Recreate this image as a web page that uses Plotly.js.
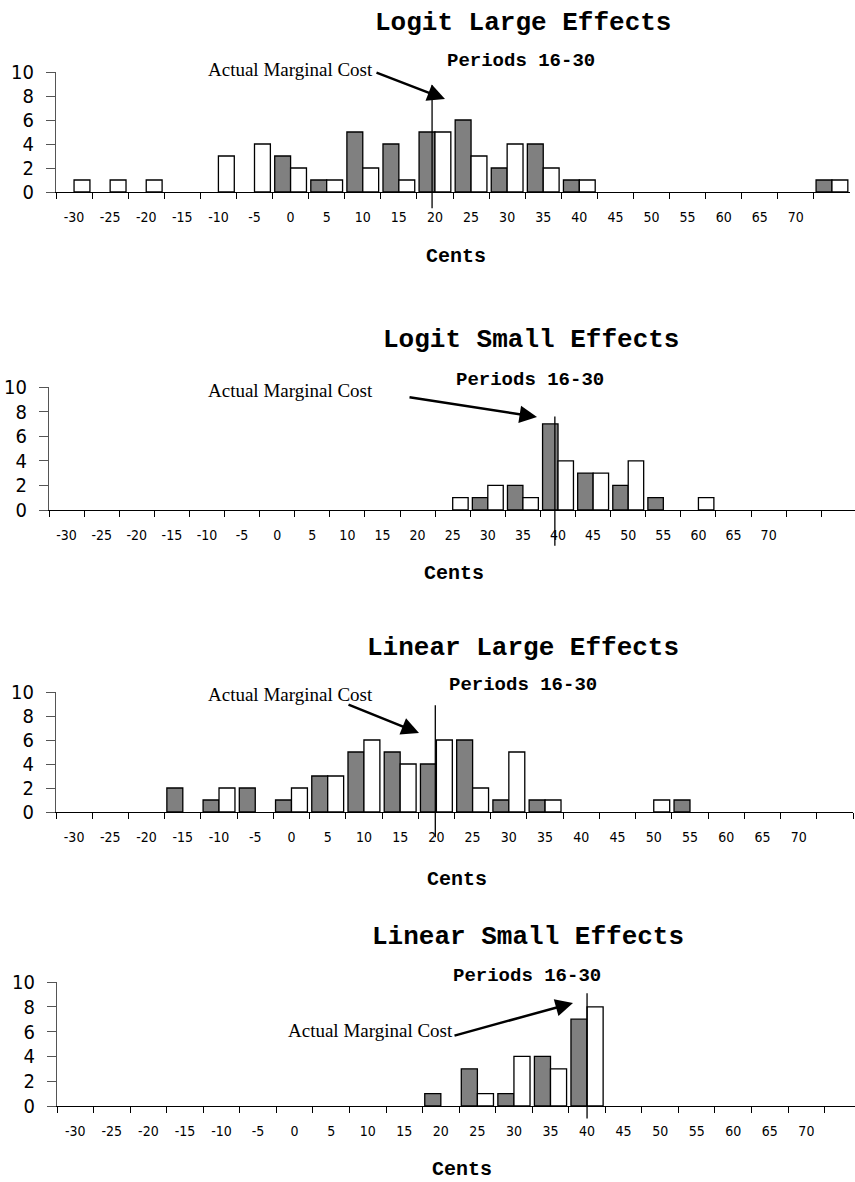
<!DOCTYPE html>
<html><head><meta charset="utf-8">
<script src="https://cdn.plot.ly/plotly-3.0.1.min.js"></script>
<style>html,body{margin:0;padding:0;background:#fff}#chart{width:855px;height:1182px}</style>
</head><body><div id="chart"></div>
<script>
// ---- data ----
const cents = ["-30","-25","-20","-15","-10","-5","0","5","10","15","20","25","30","35","40","45","50","55","60","65","70"," "];
const panelTitles = ["Logit Large Effects","Logit Small Effects","Linear Large Effects","Linear Small Effects"];
const subtitle = "Periods 16-30";
const xTitle = "Cents";
const markerLabel = "Actual Marginal Cost";
const actualCost = ["20","40","20","40"];

const logitLargeGray  = [0,0,0,0,0,0,3,1,5,4,5,6,2,4,1,0,0,0,0,0,0,1];
const logitLargeWhite = [1,1,1,0,3,4,2,1,2,1,5,3,4,2,1,0,0,0,0,0,0,1];
const logitSmallGray  = [0,0,0,0,0,0,0,0,0,0,0,0,1,2,7,3,2,1,0,0,0,0];
const logitSmallWhite = [0,0,0,0,0,0,0,0,0,0,0,1,2,1,4,3,4,0,1,0,0,0];
const linearLargeGray  = [0,0,0,2,1,2,1,3,5,5,4,6,1,1,0,0,0,1,0,0,0,0];
const linearLargeWhite = [0,0,0,0,2,0,2,3,6,4,6,2,5,1,0,0,1,0,0,0,0,0];
const linearSmallGray  = [0,0,0,0,0,0,0,0,0,0,1,3,1,4,7,0,0,0,0,0,0,0];
const linearSmallWhite = [0,0,0,0,0,0,0,0,0,0,0,1,4,3,8,0,0,0,0,0,0,0];

const graySeries  = [logitLargeGray, logitSmallGray, linearLargeGray, linearSmallGray];
const whiteSeries = [logitLargeWhite, logitSmallWhite, linearLargeWhite, linearSmallWhite];

// ---- layout geometry (pixels) ----
const W = 855, H = 1182;
const px = v => v / W, py = v => 1 - v / H;
const panels = [
  {x0:56, x1:850, yb:192, yt:72,  xmax:21.5,  title:[523,23],  sub:[521,61],  cents:[456,256],
   label:[375,70], tail:[375,72], head:[445,99], lineTop:8.9, lineBot:-1.35, lineOff:-0.08},
  {x0:49, x1:855, yb:510, yt:387, xmax:22.46, title:[531,340], sub:[530,380], cents:[454,574],
   label:[375,390], tail:[408,397], head:[537,417], lineTop:7.6, lineBot:-2.9, lineOff:-0.09},
  {x0:56, x1:853, yb:812, yt:692, xmax:21.5,  title:[523,648], sub:[523,685], cents:[457,879],
   label:[375,694], tail:[347,704], head:[419,733], lineTop:8.9, lineBot:-2.1, lineOff:-0.03},
  {x0:57, x1:855, yb:1106, yt:982, xmax:21.33, title:[528,937], sub:[527,976], cents:[462,1169],
   label:[455,1030], tail:[453,1036], head:[573,1003], lineTop:9.1, lineBot:-1.0, lineOff:0}
];

const data = [];
const layout = {
  width: W, height: H, margin: {l:0, r:0, t:0, b:0},
  paper_bgcolor: '#fff', plot_bgcolor: 'rgba(0,0,0,0)',
  showlegend: false, barmode: 'group', bargap: 0.12, bargroupgap: 0,
  annotations: [], shapes: []
};
const titleFont = {family: 'Liberation Mono, Courier New, monospace', size: 26, color: '#000', weight: 'bold'};
const subFont = {family: 'Liberation Mono, Courier New, monospace', size: 19, color: '#000', weight: 'bold'};
const centsFont = {family: 'Liberation Mono, Courier New, monospace', size: 20, color: '#000', weight: 'bold'};
const labelFont = {family: 'Liberation Serif, Times New Roman, serif', size: 19, color: '#000'};
const hideZero = arr => arr.map(v => (v === 0 ? null : v));

panels.forEach((p, i) => {
  const n = i + 1;
  const xa = n === 1 ? 'x' : 'x' + n, ya = n === 1 ? 'y' : 'y' + n;
  const xk = n === 1 ? 'xaxis' : 'xaxis' + n, yk = n === 1 ? 'yaxis' : 'yaxis' + n;
  const barLine = {color: '#000', width: 1.3};
  data.push({type:'bar', x: cents, y: hideZero(graySeries[i]), xaxis: xa, yaxis: ya,
    marker: {color: '#808080', line: barLine}, hoverinfo: 'skip'});
  data.push({type:'bar', x: cents, y: hideZero(whiteSeries[i]), xaxis: xa, yaxis: ya,
    marker: {color: '#ffffff', line: barLine}, hoverinfo: 'skip'});
  layout[xk] = {
    type: 'category', categoryorder: 'array', categoryarray: cents,
    domain: [px(p.x0), Math.min(1, px(p.x1))], anchor: ya,
    range: [-0.5, p.xmax], fixedrange: true,
    showline: true, linecolor: '#000', linewidth: 1,
    ticks: 'outside', ticklen: 6, tickwidth: 1, tickcolor: '#000', tickson: 'boundaries',
    showgrid: false, zeroline: false, ticklabelstandoff: 12,
    tickfont: {family: 'DejaVu Sans Condensed, DejaVu Sans, sans-serif', size: 14, color: '#000'}
  };
  layout[yk] = {
    domain: [py(p.yb), py(p.yt)], anchor: xa, range: [0, 10], dtick: 2, tick0: 0,
    fixedrange: true, showline: true, linecolor: '#555', linewidth: 1,
    ticks: 'outside', ticklen: 9, tickwidth: 1, tickcolor: '#555',
    showgrid: false, zeroline: false, ticklabelstandoff: 8,
    tickfont: {family: 'DejaVu Sans Condensed, DejaVu Sans, sans-serif', size: 20, color: '#000'}
  };
  const ann = (pos, text, font) => layout.annotations.push({
    xref:'paper', yref:'paper', x: px(pos[0]), y: py(pos[1]), text, font,
    showarrow:false, xanchor:'center', yanchor:'middle'});
  ann(p.title, panelTitles[i], titleFont);
  ann(p.sub, subtitle, subFont);
  ann(p.cents, xTitle, centsFont);
  layout.annotations.push({xref:'paper', yref:'paper', x: px(p.label[0]), y: py(p.label[1]),
    text: markerLabel, font: labelFont, showarrow:false, xanchor:'right', yanchor:'middle'});
  layout.annotations.push({xref:'paper', yref:'paper', x: px(p.head[0]), y: py(p.head[1]),
    axref:'pixel', ayref:'pixel', ax: p.tail[0]-p.head[0], ay: p.tail[1]-p.head[1],
    text:'', showarrow:true, arrowhead:2, arrowsize:1.4, arrowwidth:2.5, arrowcolor:'#000', standoff:0});
  const ci = cents.indexOf(actualCost[i]) + p.lineOff;
  layout.shapes.push({type:'line', xref: xa, yref: ya + ' domain', x0: ci, x1: ci,
    y0: p.lineBot/10, y1: p.lineTop/10, line:{color:'#000', width:1.3}});
});

Plotly.newPlot('chart', data, layout, {staticPlot: true, displayModeBar: false});
</script>
</body></html>
